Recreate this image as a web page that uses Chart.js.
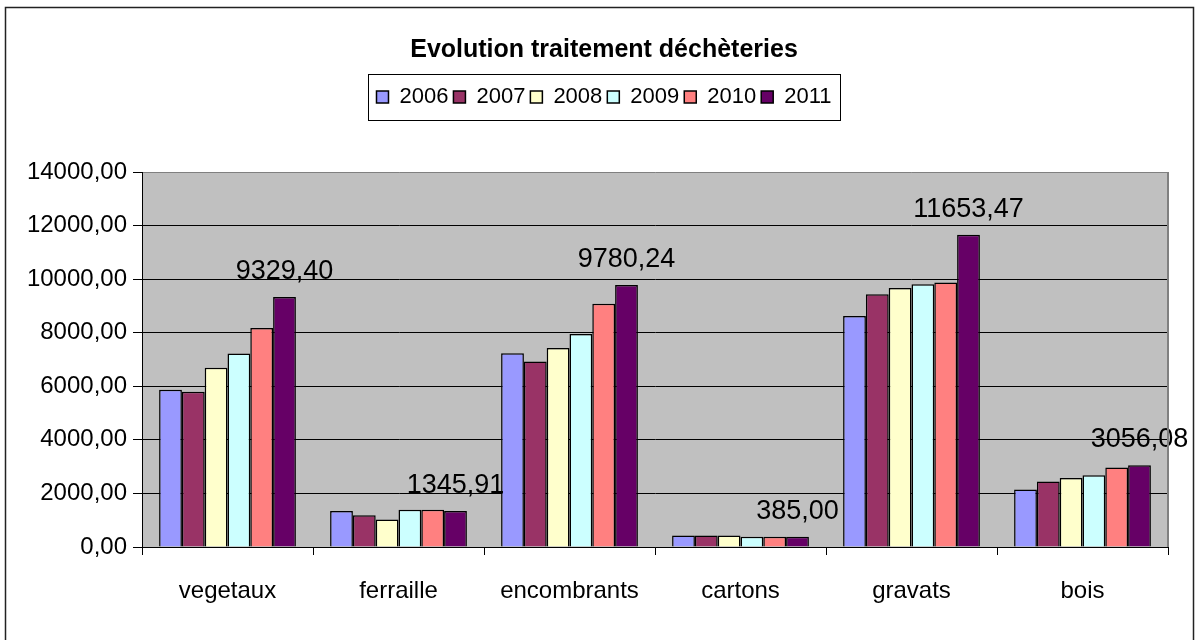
<!DOCTYPE html>
<html lang="fr">
<head>
<meta charset="utf-8">
<title>Evolution traitement déchèteries</title>
<script src="https://cdn.jsdelivr.net/npm/chart.js@4.4.0/dist/chart.umd.min.js"></script>
<style>
    html, body { margin: 0; padding: 0; background: #fff; }
    canvas { display: block; }
</style>
</head>
<body>
<canvas id="graphique" width="1196" height="640"></canvas>
<script>
// Données (tonnes)
const categories = ['vegetaux', 'ferraille', 'encombrants', 'cartons', 'gravats', 'bois'];
const annees = ['2006', '2007', '2008', '2009', '2010', '2011'];
const valeurs2006 = [5870, 1340, 7235, 430, 8625, 2145];
const valeurs2007 = [5795, 1190, 6925, 430, 9440, 2445];
const valeurs2008 = [6690, 1030, 7430, 430, 9665, 2580];
const valeurs2009 = [7225, 1395, 7955, 380, 9805, 2680];
const valeurs2010 = [8175, 1395, 9085, 380, 9875, 2965];
const valeurs2011 = [9329.40, 1345.91, 9780.24, 385.00, 11653.47, 3056.08];
const ticksY = [0, 2000, 4000, 6000, 8000, 10000, 12000, 14000];

const COULEURS = ['#9999FF', '#993366', '#FFFFCC', '#CCFFFF', '#FF8080', '#660066'];
const POLICE = "'Liberation Sans', Arial, sans-serif";

function formatNombre(v) {
    return v.toFixed(2).replace('.', ',');
}

const series = [valeurs2006, valeurs2007, valeurs2008, valeurs2009, valeurs2010, valeurs2011];

// décale titre et légende vers la droite (centrés comme dans l'original)
const pluginDecalage = {
    id: 'decalage',
    afterLayout(chart) {
        [chart.titleBlock, chart.legend].forEach(bloc => {
            if (bloc) {
                bloc.left += 20;
                bloc.right += 20;
            }
        });
    }
};

// fond gris de la zone de tracé + cadres
const pluginCadre = {
    id: 'cadre',
    beforeDraw(chart) {
        const { ctx, chartArea: a } = chart;
        ctx.save();
        ctx.fillStyle = '#C0C0C0';
        ctx.fillRect(a.left, a.top, a.right - a.left, a.bottom - a.top);
        ctx.restore();
    },
    afterDraw(chart) {
        const { ctx, chartArea: a } = chart;
        ctx.save();
        ctx.strokeStyle = '#808080';
        ctx.lineWidth = 2;
        ctx.beginPath();
        ctx.moveTo(a.right, a.top);
        ctx.lineTo(a.right, a.bottom);
        ctx.stroke();

        // cadre de la légende
        const boites = chart.legend.legendHitBoxes;
        if (boites && boites.length) {
            const gauche = Math.min(...boites.map(b => b.left)) - 8;
            const droite = Math.max(...boites.map(b => b.left + b.width)) + 9;
            const haut = boites[0].top - 12;
            const bas = boites[0].top + boites[0].height + 12;
            ctx.strokeStyle = '#000';
            ctx.lineWidth = 1;
            ctx.strokeRect(Math.round(gauche) + 0.5, Math.round(haut) + 0.5,
                Math.round(droite - gauche), Math.round(bas - haut));
        }

        // cadre extérieur du graphique
        ctx.strokeStyle = '#222';
        ctx.lineWidth = 1.5;
        ctx.strokeRect(5.5, 7.5, 1188, 660);
        ctx.restore();
    }
};

// étiquettes de valeur sur la série 2011
const pluginEtiquettes = {
    id: 'etiquettes',
    afterDatasetsDraw(chart) {
        const { ctx } = chart;
        const meta = chart.getDatasetMeta(annees.length - 1);
        ctx.save();
        ctx.font = `27px ${POLICE}`;
        ctx.fillStyle = '#000';
        ctx.textAlign = 'center';
        ctx.textBaseline = 'alphabetic';
        meta.data.forEach((barre, i) => {
            ctx.fillText(formatNombre(valeurs2011[i]), barre.x, barre.y - 18);
        });
        ctx.restore();
    }
};

new Chart(document.getElementById('graphique'), {
    type: 'bar',
    data: {
        labels: categories,
        datasets: annees.map((annee, i) => ({
            label: annee,
            data: series[i],
            backgroundColor: COULEURS[i],
            borderColor: '#000',
            borderWidth: 1.5,
            categoryPercentage: 0.8,
            barPercentage: 1.0
        }))
    },
    options: {
        responsive: false,
        animation: false,
        devicePixelRatio: 1,
        layout: { padding: { left: 0, right: 28, top: 0, bottom: 0 } },
        plugins: {
            title: {
                display: true,
                text: 'Evolution traitement déchèteries',
                color: '#000',
                font: { family: POLICE, size: 25, weight: 'bold' },
                padding: { top: 35, bottom: 16 }
            },
            // espace vide entre la légende et la zone de tracé
            subtitle: {
                display: true,
                text: '',
                weight: 500,
                font: { size: 1, lineHeight: 1 },
                padding: { top: 0, bottom: 53 }
            },
            legend: {
                display: true,
                labels: {
                    color: '#000',
                    font: { family: POLICE, size: 22 },
                    boxWidth: 12,
                    boxHeight: 12,
                    padding: 5
                }
            },
            tooltip: { enabled: false }
        },
        scales: {
            x: {
                grid: {
                    drawOnChartArea: false,
                    drawTicks: true,
                    tickLength: 8,
                    color: '#000'
                },
                border: { color: '#000', width: 1 },
                ticks: {
                    color: '#000',
                    font: { family: POLICE, size: 24 },
                    padding: 22
                },
                afterFit(scale) {
                    scale.height = 93;
                }
            },
            y: {
                min: 0,
                max: 14000,
                afterBuildTicks(scale) {
                    scale.ticks = ticksY.map(v => ({ value: v }));
                },
                grid: {
                    color: ctx => (ctx.tick && ctx.tick.value === 14000 ? '#808080' : '#000'),
                    lineWidth: 1,
                    drawTicks: true,
                    tickLength: 9,
                    tickColor: '#000'
                },
                border: { color: '#000', width: 1 },
                ticks: {
                    color: '#000',
                    font: { family: POLICE, size: 24 },
                    padding: 6,
                    callback: v => formatNombre(v)
                },
                afterFit(scale) {
                    scale.width = 142;
                }
            }
        }
    },
    plugins: [pluginDecalage, pluginCadre, pluginEtiquettes]
});
</script>
</body>
</html>
